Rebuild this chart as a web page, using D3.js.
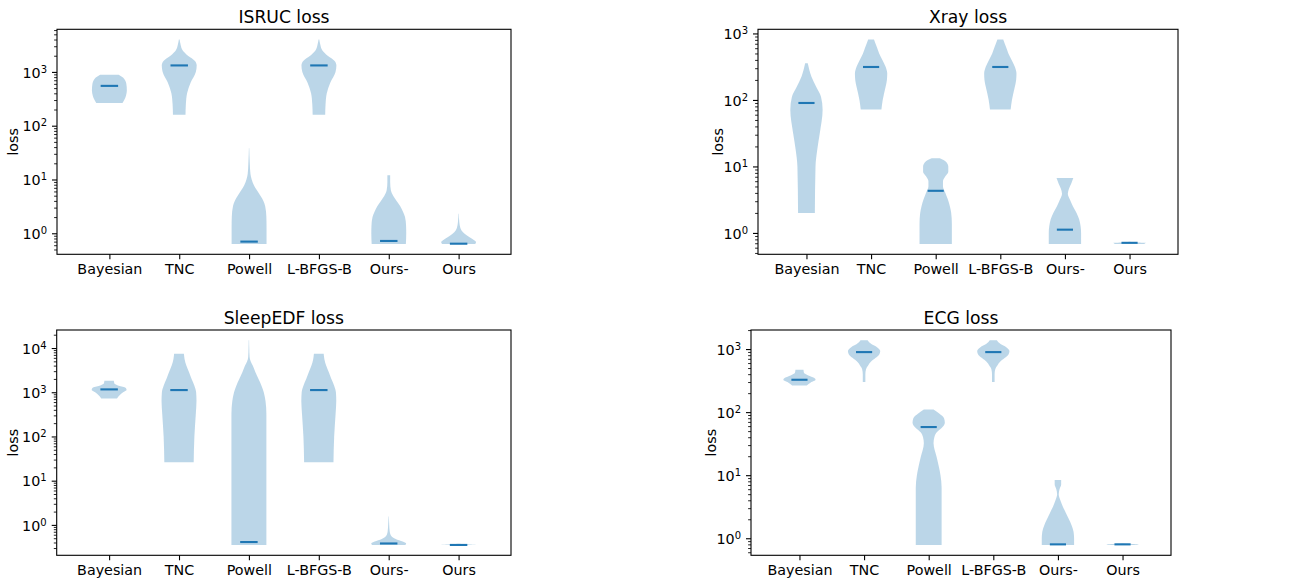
<!DOCTYPE html>
<html>
<head>
<meta charset="utf-8">
<script src="https://cdn.jsdelivr.net/npm/d3@7"></script>
<style>
  body { margin: 0; background: #fff; }
  text { font-family: "DejaVu Sans", sans-serif; fill: #000; }
</style>
</head>
<body>
<div id="chart"></div>
<script>
var methods = ["Bayesian", "TNC", "Powell", "L-BFGS-B", "Ours-", "Ours"];

// medians per method, and violin outlines as [loss, relative density] from max loss down to min loss
var isrucMedians = [550, 1320, 0.7, 1320, 0.72, 0.64];
var isrucShapes = [
  [[890, 0.53], [790, 0.78], [700, 0.9], [600, 0.97], [450, 1.0], [360, 0.95], [300, 0.85], [265, 0.75]],
  [[4000, 0.02], [3200, 0.08], [2500, 0.2], [2000, 0.5], [1600, 0.9], [1320, 1.0], [1000, 0.95], [630, 0.65], [400, 0.45], [250, 0.38], [160, 0.36]],
  [[38, 0.01], [20, 0.04], [12.6, 0.08], [10, 0.15], [7.9, 0.27], [6.3, 0.45], [5, 0.65], [4, 0.82], [3.2, 0.92], [2, 0.99], [1.26, 1.0], [0.63, 1.0]],
  [[4000, 0.02], [3200, 0.08], [2500, 0.2], [2000, 0.5], [1600, 0.9], [1320, 1.0], [1000, 0.95], [630, 0.65], [400, 0.45], [250, 0.38], [160, 0.36]],
  [[12, 0.08], [8.9, 0.08], [6.3, 0.12], [5, 0.25], [4, 0.45], [3.2, 0.65], [2.5, 0.82], [2, 0.93], [1.4, 0.99], [1, 1.0], [0.63, 0.98]],
  [[2.3, 0.01], [1.6, 0.04], [1.26, 0.1], [1.05, 0.25], [0.9, 0.5], [0.76, 0.85], [0.69, 1.0], [0.63, 0.95]]
];

var xrayMedians = [90, 313, 4.3, 313, 1.12, 0.71];
var xrayShapes = [
  [[355, 0.08], [224, 0.31], [158, 0.6], [112, 0.9], [71, 1.0], [32, 0.83], [18, 0.67], [10, 0.56], [2, 0.52]],
  [[810, 0.18], [630, 0.35], [500, 0.5], [400, 0.7], [316, 0.9], [250, 1.0], [200, 0.98], [158, 0.9], [100, 0.72], [72, 0.64]],
  [[13.3, 0.25], [12, 0.6], [10, 0.78], [8.3, 0.78], [7.1, 0.6], [6, 0.45], [5, 0.45], [4, 0.6], [3.2, 0.75], [2.5, 0.88], [2, 0.96], [1.4, 1.0], [0.68, 1.0]],
  [[810, 0.18], [630, 0.35], [500, 0.5], [400, 0.7], [316, 0.9], [250, 1.0], [200, 0.98], [158, 0.9], [100, 0.72], [72, 0.64]],
  [[6.7, 0.52], [5.6, 0.4], [4.6, 0.25], [3.9, 0.18], [3.2, 0.3], [2.5, 0.5], [2, 0.72], [1.6, 0.88], [1.26, 0.97], [1, 1.0], [0.68, 1.0]],
  [[0.74, 0.02], [0.72, 0.5], [0.71, 1.0], [0.68, 0.9]]
];

var sleepMedians = [1160, 1120, 0.41, 1120, 0.38, 0.352];
var sleepShapes = [
  [[1820, 0.27], [1580, 0.3], [1410, 0.55], [1260, 0.95], [1120, 1.0], [1000, 0.8], [850, 0.6], [725, 0.45]],
  [[7400, 0.28], [5600, 0.32], [4000, 0.42], [2800, 0.58], [2000, 0.72], [1410, 0.88], [1000, 0.98], [630, 1.0], [316, 0.96], [100, 0.88], [26, 0.84]],
  [[15000, 0.01], [10000, 0.02], [6300, 0.04], [5000, 0.1], [4000, 0.22], [2800, 0.38], [2000, 0.55], [1410, 0.72], [1000, 0.85], [630, 0.95], [316, 1.0], [0.35, 1.0]],
  [[7400, 0.28], [5600, 0.32], [4000, 0.42], [2800, 0.58], [2000, 0.72], [1410, 0.88], [1000, 0.98], [630, 1.0], [316, 0.96], [100, 0.88], [26, 0.84]],
  [[1.55, 0.01], [1.0, 0.03], [0.71, 0.06], [0.56, 0.15], [0.48, 0.4], [0.42, 0.8], [0.38, 1.0], [0.35, 0.95]],
  [[0.375, 0.05], [0.36, 0.6], [0.352, 1.0], [0.35, 0.9]]
];

var ecgMedians = [326, 895, 58, 895, 0.8, 0.8];
var ecgShapes = [
  [[470, 0.25], [420, 0.28], [380, 0.55], [350, 0.9], [325, 1.0], [295, 0.7], [265, 0.45]],
  [[1380, 0.22], [1200, 0.45], [1070, 0.8], [930, 1.0], [830, 0.95], [720, 0.7], [630, 0.42], [550, 0.25], [480, 0.12], [400, 0.08], [300, 0.08]],
  [[110, 0.3], [95, 0.65], [80, 0.95], [68, 1.0], [56, 0.8], [48, 0.5], [40, 0.35], [32, 0.3], [25, 0.37], [20, 0.48], [14, 0.62], [10, 0.73], [6.3, 0.8], [0.78, 0.8]],
  [[1380, 0.22], [1200, 0.45], [1070, 0.8], [930, 1.0], [830, 0.95], [720, 0.7], [630, 0.42], [550, 0.25], [480, 0.12], [400, 0.08], [300, 0.08]],
  [[8.4, 0.2], [7.1, 0.2], [6, 0.1], [5, 0.05], [4, 0.15], [3.2, 0.3], [2.5, 0.5], [2, 0.68], [1.6, 0.85], [1.26, 0.97], [1, 1.0], [0.78, 1.0]],
  [[0.83, 0.05], [0.81, 0.6], [0.8, 1.0], [0.78, 0.9]]
];

var panels = [
  {title: "ISRUC loss", medians: isrucMedians, shapes: isrucShapes, left: 57, right: 511, top: 29.3, bottom: 254.3, labelX: 18},
  {title: "Xray loss", medians: xrayMedians, shapes: xrayShapes, left: 758, right: 1178, top: 29.3, bottom: 254.3, labelX: 723},
  {title: "SleepEDF loss", medians: sleepMedians, shapes: sleepShapes, left: 56.7, right: 511, top: 330, bottom: 555.3, labelX: 18},
  {title: "ECG loss", medians: ecgMedians, shapes: ecgShapes, left: 751, right: 1171, top: 330, bottom: 555.3, labelX: 716}
];

var color = "#1f77b4";

var svg = d3.select("#chart")
  .append("svg")
  .attr("width", 1309)
  .attr("height", 582);

panels.forEach(function(p) {
  var g = svg.append("g");

  var x = d3.scalePoint()
    .domain(methods)
    .range([p.left, p.right])
    .padding(0.75);

  // log limits with 5% margins, like matplotlib autoscaling
  var vals = p.shapes.flat().map(d => d[0]);
  var lo = Math.log10(d3.min(vals)), hi = Math.log10(d3.max(vals));
  var m = (hi - lo) * 0.05;
  var y = d3.scaleLog()
    .domain([Math.pow(10, lo - m), Math.pow(10, hi + m)])
    .range([p.bottom, p.top]);

  var hw = x.step() * 0.25;

  // violins
  p.shapes.forEach(function(shape, i) {
    var cx = x(methods[i]);
    var area = d3.area()
      .curve(d3.curveMonotoneY)
      .y(d => y(d[0]))
      .x0(d => cx - d[1] * hw)
      .x1(d => cx + d[1] * hw);
    g.append("path")
      .attr("d", area(shape))
      .attr("fill", color)
      .attr("fill-opacity", 0.3);
  });

  // medians
  g.selectAll("line.median")
    .data(p.medians)
    .enter()
    .append("line")
    .attr("class", "median")
    .attr("x1", (d, i) => x(methods[i]) - hw / 2)
    .attr("x2", (d, i) => x(methods[i]) + hw / 2)
    .attr("y1", d => y(d))
    .attr("y2", d => y(d))
    .attr("stroke", color)
    .attr("stroke-width", 2.1);

  // y axis ticks
  var all = y.ticks(10);
  var major = all.filter(v => Math.abs(Math.log10(v) - Math.round(Math.log10(v))) < 1e-9);
  var minor = all.filter(v => major.indexOf(v) < 0);

  g.append("g")
    .attr("transform", `translate(${p.left},0)`)
    .call(d3.axisLeft(y).tickValues(minor).tickSize(2.9).tickFormat(""))
    .call(s => s.select(".domain").remove())
    .call(s => s.selectAll("line").attr("stroke-width", 0.85));

  var yAxis = g.append("g")
    .attr("transform", `translate(${p.left},0)`)
    .call(d3.axisLeft(y).tickValues(major).tickSize(5).tickPadding(5).tickFormat(""))
    .call(s => s.select(".domain").remove())
    .call(s => s.selectAll("line").attr("stroke-width", 1.1));

  yAxis.selectAll("text")
    .attr("font-size", "14.3px")
    .attr("font-family", "DejaVu Sans")
    .attr("dy", "0.36em")
    .each(function(d) {
      var t = d3.select(this);
      t.text("10");
      t.append("tspan")
        .attr("dy", "-0.5em")
        .attr("font-size", "10px")
        .text(Math.round(Math.log10(d)));
    });

  // x axis
  g.append("g")
    .attr("transform", `translate(0,${p.bottom})`)
    .call(d3.axisBottom(x).tickSize(5).tickPadding(5))
    .call(s => s.select(".domain").remove())
    .call(s => s.selectAll("line").attr("stroke-width", 1.1))
    .call(s => s.selectAll("text").attr("font-size", "14.3px").attr("font-family", "DejaVu Sans"));

  // frame
  g.append("rect")
    .attr("x", p.left)
    .attr("y", p.top)
    .attr("width", p.right - p.left)
    .attr("height", p.bottom - p.top)
    .attr("fill", "none")
    .attr("stroke", "#000")
    .attr("stroke-width", 1.1);

  // title and y label
  g.append("text")
    .attr("x", (p.left + p.right) / 2)
    .attr("y", p.top - 6)
    .attr("text-anchor", "middle")
    .attr("font-size", "17.2px")
    .text(p.title);

  g.append("text")
    .attr("transform", `translate(${p.labelX},${(p.top + p.bottom) / 2}) rotate(-90)`)
    .attr("text-anchor", "middle")
    .attr("font-size", "14.3px")
    .text("loss");
});
</script>
</body>
</html>
